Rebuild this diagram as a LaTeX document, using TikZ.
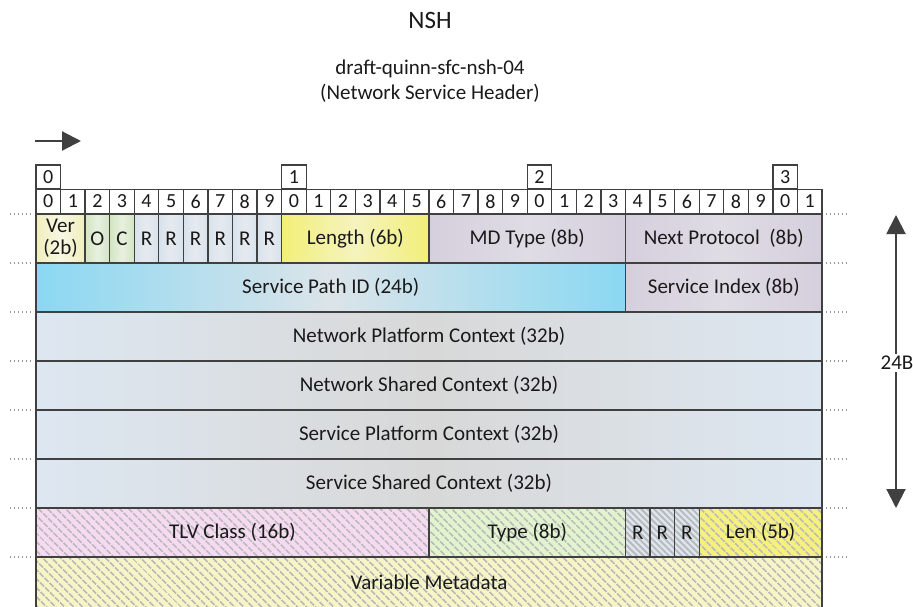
\documentclass[tikz,border=0pt]{standalone}
\usepackage{fontspec}
\setmainfont{Carlito}
\usetikzlibrary{arrows.meta,patterns.meta}

\definecolor{frame}{HTML}{404040}
\definecolor{ink}{HTML}{1A1A1A}
\definecolor{verA}{HTML}{F0EEBE}
\definecolor{verB}{HTML}{F8F7E2}
\definecolor{grnA}{HTML}{D2E5C2}
\definecolor{grnB}{HTML}{E8F0DF}
\definecolor{rsvA}{HTML}{D8E2EC}
\definecolor{rsvB}{HTML}{E6EAEF}
\definecolor{lenA}{HTML}{F2EF78}
\definecolor{lenB}{HTML}{F5F3BE}
\definecolor{lavA}{HTML}{D5CFDD}
\definecolor{lavB}{HTML}{DFDCE4}
\definecolor{spiA}{HTML}{8AD8F2}
\definecolor{spiB}{HTML}{DCE4E9}
\definecolor{ctxA}{HTML}{DDE7F1}
\definecolor{ctxB}{HTML}{D8D8D8}
\definecolor{tlvC}{HTML}{F6DAF2}
\definecolor{typC}{HTML}{E1F4CE}
\definecolor{rrC}{HTML}{DCE6F1}
\definecolor{lnC}{HTML}{F6F07E}
\definecolor{vmC}{HTML}{F7F5C6}

\newcommand\bw{24.5625}
\newcommand\pktfield[6]{%
  \path[cell,#5] ({36+(#2)*\bw},{214+49*(#4)}) rectangle ({36+(#3)*\bw},{263+49*(#4)});
  \node[txt] (#1) at ({36+((#2)+(#3))*\bw/2},{238.5+49*(#4)}) {#6};}

\begin{document}
\begin{tikzpicture}[x=1pt,y=-1pt,
  cell/.style={draw=frame,line width=1.3pt},
  txt/.style={font=\fontsize{21}{22}\selectfont,text=ink,inner sep=0pt,align=center},
  bit/.style={draw=frame,line width=1.3pt,fill=white,minimum width=\bw pt,minimum height=24.5pt,
    inner sep=0pt,text=ink,font=\fontsize{20}{20}\selectfont},
  shd/.style 2 args={left color=#1,right color=#1,middle color=#2},
  hatch/.style 2 args={preaction={fill=#1},
    preaction={pattern={Lines[angle=-45,distance=#2,line width=1.9pt]},pattern color=gray!55}},
  ver/.style={shd={verA}{verB}},
  grn/.style={shd={grnA}{grnB}},
  rsv/.style={shd={rsvA}{rsvB}},
  leng/.style={shd={lenA}{lenB}},
  lav/.style={shd={lavA}{lavB}},
  spi/.style={shd={spiA}{spiB}},
  ctx/.style={shd={ctxA}{ctxB}},
  tlv/.style={hatch={tlvC}{6.5pt}},
  typ/.style={hatch={typC}{6.5pt}},
  rck/.style={hatch={rrC}{4.5pt}},
  lenh/.style={hatch={lnC}{6.5pt}},
  vmd/.style={hatch={vmC}{6.5pt}},
  guide/.style={draw=gray!80,line width=1.2pt,dash pattern=on 1.3pt off 2.6pt},
  arr/.style={draw=frame,line width=2.2pt,-{Triangle[length=19pt,width=19pt]}},
  darr/.style={draw=frame,line width=2pt,{Triangle[length=19pt,width=19pt]}-{Triangle[length=19pt,width=19pt]}}]
\clip (0,0) rectangle (913,606);

\node[txt,font=\fontsize{25}{26}\selectfont] (title) at (430,20) {NSH};
\node[txt,font=\fontsize{21}{25}\selectfont] (draft) at (430,81) {draft-quinn-sfc-nsh-04\\(Network Service Header)};

\coordinate (dirA) at (35,141);
\coordinate (dirB) at (81,141);
\draw[arr] (dirA) -- (dirB);

\foreach \i in {0,...,31}{
  \pgfmathtruncatemacro\d{mod(\i,10)}
  \node[bit] (b\i) at ({36+(\i+0.5)*\bw},201.5) {\d};
}
\foreach \i/\c in {0/0,1/10,2/20,3/30}
  \node[bit,minimum height=24pt] (top\i) at ({36+(\c+0.5)*\bw},177) {\i};

\pktfield{ver}{0}{2}{0}{ver}{Ver\\(2b)}
\pktfield{obit}{2}{3}{0}{grn}{O}
\pktfield{cbit}{3}{4}{0}{grn}{C}
\foreach \i in {4,...,9}{
  \pktfield{r\i}{\i}{\i+1}{0}{rsv}{R}
}
\pktfield{len}{10}{16}{0}{leng}{Length (6b)}
\pktfield{mdtype}{16}{24}{0}{lav}{MD Type (8b)}
\pktfield{nextp}{24}{32}{0}{lav}{Next Protocol\ \ (8b)}

\pktfield{spi}{0}{24}{1}{spi}{Service Path ID (24b)}
\pktfield{sidx}{24}{32}{1}{lav}{Service Index (8b)}

\pktfield{npc}{0}{32}{2}{ctx}{Network Platform Context (32b)}
\pktfield{nsc}{0}{32}{3}{ctx}{Network Shared Context (32b)}
\pktfield{spc}{0}{32}{4}{ctx}{Service Platform Context (32b)}
\pktfield{ssc}{0}{32}{5}{ctx}{Service Shared Context (32b)}

\pktfield{tlvclass}{0}{16}{6}{tlv}{TLV Class (16b)}
\pktfield{tlvtype}{16}{24}{6}{typ}{Type (8b)}
\foreach \i in {24,25,26}{
  \pktfield{rr\i}{\i}{\i+1}{6}{rck}{R}
}
\pktfield{tlvlen}{27}{32}{6}{lenh}{Len (5b)}

\path[cell,vmd] (36,557) rectangle ({36+32*\bw},615);
\node[txt] (vmeta) at ({36+16*\bw},582) {Variable Metadata};

\foreach \y in {214,263,...,557}{
  \draw[guide] (10,\y) -- (33,\y);
  \draw[guide] (826,\y) -- (846,\y);
}

\coordinate (szTop) at (896,215);
\coordinate (szBot) at (896,508);
\draw[darr] (szTop) -- (szBot);
\node[txt,fill=white,inner sep=2pt] (size) at (897,363) {24B};
\end{tikzpicture}
\end{document}
